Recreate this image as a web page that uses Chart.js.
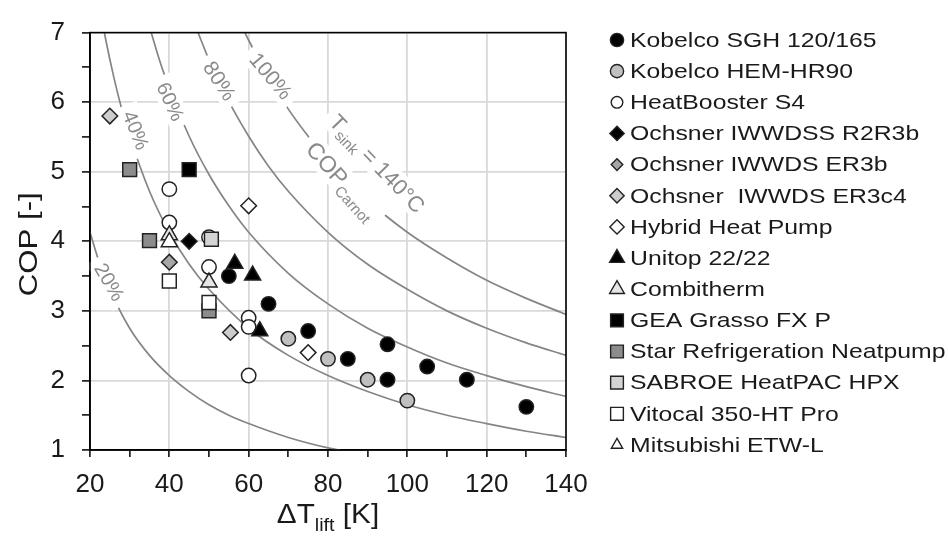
<!DOCTYPE html>
<html>
<head>
<meta charset="utf-8">
<script src="https://cdn.jsdelivr.net/npm/chart.js@4.4.1/dist/chart.umd.min.js"></script>
<style>
  html, body { margin: 0; padding: 0; background: #fff; }
  #wrap { width: 949px; height: 545px; }
</style>
</head>
<body>
<div id="wrap"><canvas id="cop" width="949" height="545"></canvas></div>
<script>
// --- measured points (ΔT_lift [K], COP [-]) ---
const sghLift = [55, 65, 75, 85, 95, 95, 105, 115, 130];
const sghCop = [3.5, 3.1, 2.71, 2.31, 2.52, 2.01, 2.2, 2.01, 1.62];
const hemLift = [70, 80, 90, 100];
const hemCop = [2.6, 2.31, 2.01, 1.71];
const boosterLift = [40, 40, 50, 50, 60, 60, 60];
const boosterCop = [4.75, 4.27, 4.06, 3.63, 2.9, 2.77, 2.07];
const r2r3bLift = [45];
const r2r3bCop = [4.0];
const er3bLift = [40];
const er3bCop = [3.7];
const er3c4Lift = [25, 55.4];
const er3c4Cop = [5.8, 2.69];
const hybridLift = [60, 75];
const hybridCop = [4.51, 2.4];
const unitopLift = [56.5, 61, 62.8];
const unitopCop = [3.68, 3.51, 2.71];
const combiLift = [40, 50];
const combiCop = [4.09, 3.41];
const geaLift = [45];
const geaCop = [5.03];
const starLift = [30, 35, 50];
const starCop = [5.03, 4.01, 3.0];
const sabroeLift = [50.6];
const sabroeCop = [4.03];
const vitocalLift = [40, 50];
const vitocalCop = [3.43, 3.12];
const etwLift = [40];
const etwCop = [3.99];

// --- iso-efficiency curves (share of COP_Carnot, T_sink = 140 °C) ---
const curve20Lift = [20, 22.5, 25, 30, 35, 40, 45, 50, 55, 60, 70, 80, 90];
const curve20Cop = [4.13, 3.67, 3.31, 2.75, 2.36, 2.07, 1.84, 1.65, 1.5, 1.38, 1.18, 1.03, 0.92];
const curve40Lift = [22, 24, 26, 28, 30, 35, 40, 45, 50, 60, 70, 80, 90, 100, 110, 120, 130, 140];
const curve40Cop = [7.51, 6.89, 6.36, 5.9, 5.51, 4.72, 4.13, 3.67, 3.31, 2.75, 2.36, 2.07, 1.84, 1.65, 1.5, 1.38, 1.27, 1.18];
const curve60Lift = [34, 36, 38, 40, 45, 50, 55, 60, 70, 80, 90, 100, 110, 120, 130, 140];
const curve60Cop = [7.29, 6.89, 6.52, 6.2, 5.51, 4.96, 4.51, 4.13, 3.54, 3.1, 2.75, 2.48, 2.25, 2.07, 1.91, 1.77];
const curve80Lift = [46, 48, 50, 55, 60, 65, 70, 80, 90, 100, 110, 120, 130, 140];
const curve80Cop = [7.19, 6.89, 6.61, 6.01, 5.51, 5.08, 4.72, 4.13, 3.67, 3.31, 3.0, 2.75, 2.54, 2.36];
const curve100Lift = [58, 60, 65, 70, 75, 80, 90, 100, 110, 120, 130, 140];
const curve100Cop = [7.12, 6.89, 6.36, 5.9, 5.51, 5.16, 4.59, 4.13, 3.76, 3.44, 3.18, 2.95];

// --- axis ticks ---
const liftTicks = [20, 40, 60, 80, 100, 120, 140];
const copTicks = [1, 2, 3, 4, 5, 6, 7];

const seriesNames = [
  "Kobelco SGH 120/165", "Kobelco HEM-HR90", "HeatBooster S4", "Ochsner IWWDSS R2R3b",
  "Ochsner IWWDS ER3b", "Ochsner  IWWDS ER3c4", "Hybrid Heat Pump", "Unitop 22/22",
  "Combitherm", "GEA Grasso FX P", "Star Refrigeration Neatpump", "SABROE HeatPAC HPX",
  "Vitocal 350-HT Pro", "Mitsubishi ETW-L"
];
const seriesData = [
  [sghLift, sghCop], [hemLift, hemCop], [boosterLift, boosterCop], [r2r3bLift, r2r3bCop],
  [er3bLift, er3bCop], [er3c4Lift, er3c4Cop], [hybridLift, hybridCop], [unitopLift, unitopCop],
  [combiLift, combiCop], [geaLift, geaCop], [starLift, starCop], [sabroeLift, sabroeCop],
  [vitocalLift, vitocalCop], [etwLift, etwCop]
];
const curveData = [
  [curve20Lift, curve20Cop], [curve40Lift, curve40Cop], [curve60Lift, curve60Cop],
  [curve80Lift, curve80Cop], [curve100Lift, curve100Cop]
];

// marker look per series (same order as seriesNames)
const markerStyles = [
  { shape: "circle", r: 7.2, fill: "#000000" },
  { shape: "circle", r: 7.2, fill: "#c0c0c0" },
  { shape: "circle", r: 7.2, fill: "#ffffff", legendR: 5.8 },
  { shape: "rectRot", r: 7.8, fill: "#000000" },
  { shape: "rectRot", r: 7.8, fill: "#a6a6a6", legendR: 5.8 },
  { shape: "rectRot", r: 7.8, fill: "#cccccc" },
  { shape: "rectRot", r: 7.8, fill: "#ffffff" },
  { shape: "triangle", r: 9.3, fill: "#000000" },
  { shape: "triangle", r: 9.3, fill: "#e6e6e6" },
  { shape: "rect", r: 9.8, fill: "#000000" },
  { shape: "rect", r: 9.8, fill: "#8c8c8c" },
  { shape: "rect", r: 9.8, fill: "#d4d4d4" },
  { shape: "rect", r: 9.8, fill: "#ffffff" },
  { shape: "triangle", r: 9.3, fill: "#ffffff", legendR: 6.5 }
];

const FONT = '"Liberation Sans", Arial, sans-serif';
const curveGrey = "#858585";

const curveNotes = [
  { parts: [{ t: "20%", size: 20 }], x: 25, y: 3.42, angle: 60 },
  { parts: [{ t: "40%", size: 20 }], x: 31.7, y: 5.6, angle: 68 },
  { parts: [{ t: "60%", size: 20 }], x: 40.4, y: 6.01, angle: 65 },
  { parts: [{ t: "80%", size: 21 }], x: 52.8, y: 6.31, angle: 57 },
  { parts: [{ t: "100%", size: 21 }], x: 65.7, y: 6.38, angle: 50 },
  { parts: [{ t: "T", size: 22 }, { t: "sink", size: 15, dy: 5 }, { t: " = 140°C", size: 22 }], x: 92.5, y: 5.12, angle: 46 },
  { parts: [{ t: "COP", size: 23 }, { t: "Carnot", size: 15, dy: 6 }], x: 83.7, y: 4.88, angle: 48 }
];

function toPoints(xs, ys) {
  return xs.map((x, i) => ({ x: x, y: ys[i] }));
}

// rotated text made of pieces (for subscripts), optional white gap behind, optional x-stretch
function drawRich(ctx, parts, cx, cy, angle, color, pad, sx) {
  ctx.save();
  ctx.translate(cx, cy);
  ctx.rotate(angle * Math.PI / 180);
  ctx.scale(sx || 1, 1);
  let total = 0;
  parts.forEach(p => {
    ctx.font = p.size + "px " + FONT;
    p.w = ctx.measureText(p.t).width;
    total += p.w;
  });
  const h = Math.max(...parts.map(p => p.size));
  if (pad !== null && pad !== undefined) {
    ctx.fillStyle = "#ffffff";
    ctx.fillRect(-total / 2 - pad, -h * 0.55, total + 2 * pad, h * 1.15);
  }
  ctx.fillStyle = color;
  ctx.textAlign = "left";
  ctx.textBaseline = "alphabetic";
  let x = -total / 2;
  parts.forEach(p => {
    ctx.font = p.size + "px " + FONT;
    ctx.fillText(p.t, x, h * 0.36 + (p.dy || 0));
    x += p.w;
  });
  ctx.restore();
}

const decorPlugin = {
  id: "decor",
  afterDatasetDraw(chart, args) {
    // curve 0 is the last of the curves to be drawn: put the labels over the curves, under the markers
    if (args.index !== 0) return;
    const ctx = chart.ctx;
    const xs = chart.scales.x, ys = chart.scales.y;
    curveNotes.forEach(n => {
      drawRich(ctx, n.parts, xs.getPixelForValue(n.x), ys.getPixelForValue(n.y), n.angle, "#8a8a8a", 7);
    });
  },
  afterDraw(chart) {
    const ctx = chart.ctx;
    const a = chart.chartArea;
    ctx.save();
    ctx.strokeStyle = "#000";
    ctx.lineWidth = 1.6;
    ctx.strokeRect(a.left, a.top, a.right - a.left, a.bottom - a.top);
    ctx.restore();

    // axis titles
    drawRich(ctx, [{ t: "COP [-]", size: 26 }], 28, (a.top + a.bottom) / 2 + 3, -90, "#1a1a1a", null, 1.2);
    drawRich(ctx, [{ t: "ΔT", size: 27 }, { t: "lift", size: 18, dy: 8 }, { t: " [K]", size: 27 }],
      (a.left + a.right) / 2, 513, 0, "#1a1a1a", null, 1.1);

    // legend
    const lx = 617, tx = 630, top = 40, step = 31.15;
    seriesNames.forEach((name, i) => {
      const st = markerStyles[i];
      const y = top + i * step;
      ctx.save();
      ctx.fillStyle = st.fill;
      ctx.strokeStyle = "#222";
      ctx.lineWidth = 1.4;
      Chart.helpers.drawPoint(ctx, {
        pointStyle: st.shape, rotation: 0,
        radius: st.legendR || st.r * 0.92, borderWidth: 1.4
      }, lx, y);
      ctx.restore();
      ctx.save();
      ctx.translate(tx, y);
      ctx.scale(1.18, 1);
      ctx.font = "21px " + FONT;
      ctx.fillStyle = "#1a1a1a";
      ctx.textAlign = "left";
      ctx.textBaseline = "middle";
      ctx.fillText(name, 0, 1);
      ctx.restore();
    });
  }
};

const datasets = [];
curveData.forEach(([xs, ys], i) => {
  datasets.push({
    label: "curve" + i,
    data: toPoints(xs, ys),
    showLine: true,
    borderColor: curveGrey,
    borderWidth: 1.7,
    pointRadius: 0,
    cubicInterpolationMode: "monotone",
    order: 100
  });
});
seriesData.forEach(([xs, ys], i) => {
  const st = markerStyles[i];
  datasets.push({
    label: seriesNames[i],
    data: toPoints(xs, ys),
    showLine: false,
    pointStyle: st.shape,
    pointRadius: st.r,
    pointBackgroundColor: st.fill,
    pointBorderColor: "#222",
    pointBorderWidth: 1.5,
    order: -i - 1
  });
});

new Chart(document.getElementById("cop"), {
  type: "scatter",
  data: { datasets: datasets },
  plugins: [decorPlugin],
  options: {
    responsive: false,
    animation: false,
    events: [],
    layout: { padding: { top: 28, right: 383, left: 0, bottom: 0 } },
    plugins: { legend: { display: false }, tooltip: { enabled: false } },
    scales: {
      x: {
        type: "linear", min: 20, max: 140,
        afterFit: s => { s.height = 95; },
        ticks: {
          stepSize: 10, autoSkip: false, maxRotation: 0, padding: 12,
          color: "#1a1a1a", font: { family: FONT, size: 26 },
          callback: v => (liftTicks.includes(v) ? String(v) : "")
        },
        grid: {
          color: c => (c.tick && liftTicks.includes(c.tick.value) ? "#d9d9d9" : "rgba(0,0,0,0)"),
          lineWidth: 1.8, tickColor: "#000", tickWidth: 1.5, tickLength: 7
        },
        border: { color: "#000", width: 1.6 }
      },
      y: {
        type: "linear", min: 1, max: 7,
        afterFit: s => { s.width = 90; },
        ticks: {
          stepSize: 0.5, autoSkip: false, padding: 17,
          color: "#1a1a1a", font: { family: FONT, size: 26 },
          callback: v => (copTicks.includes(v) ? String(v) : "")
        },
        grid: {
          color: c => (c.tick && copTicks.includes(c.tick.value) ? "#d9d9d9" : "rgba(0,0,0,0)"),
          lineWidth: 1.8, tickColor: "#000", tickWidth: 1.5, tickLength: 8
        },
        border: { color: "#000", width: 1.6 }
      }
    }
  }
});
</script>
</body>
</html>
